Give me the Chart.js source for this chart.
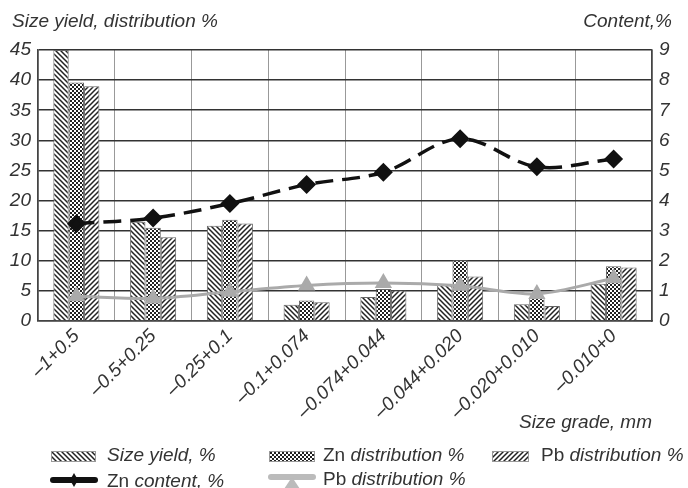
<!DOCTYPE html>
<html><head><meta charset="utf-8">
<script src="https://cdn.jsdelivr.net/npm/chart.js@4"></script>
<style>html,body{margin:0;padding:0;background:#fff}#wrap{width:688px;height:488px;position:relative}</style>
</head><body><div id="wrap"><canvas id="c" width="688" height="488"></canvas></div>
<script>
const categories = ['–1+0.5','–0.5+0.25','–0.25+0.1','–0.1+0.074','–0.074+0.044','–0.044+0.020','–0.020+0.010','–0.010+0'];
const sizeYield = [45, 16.5, 15.8, 2.7, 4.0, 6.1, 2.8, 6.2];
const znDist = [39.6, 15.5, 16.8, 3.4, 5.3, 10.1, 3.9, 9.1];
const pbDist = [39.0, 13.9, 16.2, 3.1, 5.05, 7.4, 2.5, 8.9];
const znContent = [3.23, 3.42, 3.9, 4.53, 4.94, 6.05, 5.12, 5.38];
const pbContent = [0.82, 0.75, 0.97, 1.18, 1.26, 1.17, 0.9, 1.42];
const leftTicks = [0,5,10,15,20,25,30,35,40,45];
const rightTicks = [0,1,2,3,4,5,6,7,8,9];

const FONT = "'Liberation Sans', Arial, sans-serif";
const TXT = '#333';
const canvas = document.getElementById('c');
const ctx = canvas.getContext('2d');

function stripe(dir){
  const s=5, c=document.createElement('canvas'); c.width=c.height=s;
  const g=c.getContext('2d'); g.fillStyle='#fff'; g.fillRect(0,0,s,s);
  g.strokeStyle='#222'; g.lineWidth=1.5; g.beginPath();
  if(dir>0){ g.moveTo(-1,s+1);g.lineTo(s+1,-1); g.moveTo(-2,2);g.lineTo(2,-2); g.moveTo(s-2,s+2);g.lineTo(s+2,s-2); }
  else { g.moveTo(-1,-1);g.lineTo(s+1,s+1); g.moveTo(s-2,-2);g.lineTo(s+2,2); g.moveTo(-2,s-2);g.lineTo(2,s+2); }
  g.stroke(); return ctx.createPattern(c,'repeat');
}
function dots(){
  const c=document.createElement('canvas'); c.width=c.height=4;
  const g=c.getContext('2d'); g.fillStyle='#222'; g.fillRect(0,0,4,4);
  g.fillStyle='#fff'; g.fillRect(0,0,2,2); g.fillRect(2,2,2,2);
  return ctx.createPattern(c,'repeat');
}
const pBack = stripe(-1), pFwd = stripe(1), pDots = dots();

const textPlugin = {
  id:'texts',
  afterDraw(chart){
    const g=chart.ctx; g.save();
    g.fillStyle=TXT; g.textBaseline='middle';
    g.font="italic 19px "+FONT;
    g.textAlign='left'; g.fillText('Size yield, distribution %',12,22);
    g.textAlign='right'; g.fillText('Content,%',672,22);
    g.fillText('Size grade, mm',652,423);
    // legend
    function seg(x,y,parts){ g.textAlign='left'; parts.forEach(p=>{ g.font=(p[1]?'italic ':'')+'19px '+FONT; g.fillText(p[0],x,y); x+=g.measureText(p[0]).width; }); }
    function barSw(x,y,w,pat){ g.fillStyle=pat; g.fillRect(x,y-5,w,10); g.strokeStyle='#999'; g.lineWidth=1; g.strokeRect(x+0.5,y-4.5,w,10); g.fillStyle=TXT; }
    const r1=456, r2=480;
    barSw(51,r1,44,pBack); seg(107,r1,[['Size yield, %',true]]);
    barSw(269,r1,45,pDots); seg(323,r1,[['Zn',false],[' distribution %',true]]);
    barSw(492,r1,36,pFwd); seg(541,r1,[['Pb',false],[' distribution %',true]]);
    // line swatches
    g.lineCap='round';
    g.strokeStyle='#111'; g.lineWidth=6; g.beginPath(); g.moveTo(53,r2); g.lineTo(95,r2); g.stroke();
    g.fillStyle='#111'; g.beginPath(); g.moveTo(74,r2-7); g.lineTo(78,r2); g.lineTo(74,r2+7); g.lineTo(70,r2); g.closePath(); g.fill();
    g.fillStyle=TXT; seg(107,r2+2,[['Zn',false],[' content, %',true]]);
    g.strokeStyle='#bbb'; g.lineWidth=6; g.beginPath(); g.moveTo(271,r2-3); g.lineTo(313,r2-3); g.stroke();
    g.fillStyle='#bbb'; g.beginPath(); g.moveTo(292,r2-3); g.lineTo(300,r2+9); g.lineTo(284,r2+9); g.closePath(); g.fill();
    g.fillStyle=TXT; seg(323,r2,[['Pb',false],[' distribution %',true]]);
    g.restore();
  }
};

const barCommon = {type:'bar', yAxisID:'y', borderColor:'#666', borderWidth:1, categoryPercentage:0.6, barPercentage:1, order:2};
new Chart(canvas,{
  data:{labels:categories, datasets:[
    Object.assign({label:'Size yield, %', data:sizeYield, backgroundColor:pBack}, barCommon),
    Object.assign({label:'Zn distribution %', data:znDist, backgroundColor:pDots}, barCommon),
    Object.assign({label:'Pb distribution %', data:pbDist, backgroundColor:pFwd}, barCommon),
    {type:'line', label:'Zn content, %', data:znContent, yAxisID:'y1', borderColor:'#111', borderWidth:3.5, borderDash:[18,9], tension:0.35, pointStyle:'rectRot', pointRadius:7, pointBackgroundColor:'#111', pointBorderColor:'#111', order:0},
    {type:'line', label:'Pb distribution %', data:pbContent, yAxisID:'y1', borderColor:'#aaa', borderWidth:3, tension:0.3, pointStyle:'triangle', pointRadius:7, pointBackgroundColor:'#aaa', pointBorderColor:'#aaa', order:1}
  ]},
  options:{
    responsive:false, animation:false, devicePixelRatio:1,
    layout:{padding:{top:50,left:0,right:0,bottom:0}},
    plugins:{legend:{display:false}, tooltip:{enabled:false}},
    scales:{
      x:{offset:true, grid:{display:true, color:'#999', lineWidth:1, drawTicks:false, offset:true}, border:{color:'#444', width:1.5},
         ticks:{color:TXT, font:{family:FONT, size:19, style:'italic'}, maxRotation:45, minRotation:45, padding:4, autoSkip:false},
         afterFit(s){ s.height=167; }},
      y:{position:'left', min:0, max:45, afterBuildTicks(s){ s.ticks=leftTicks.map(v=>({value:v})); },
         grid:{color:'#333', lineWidth:1.5, drawTicks:false}, border:{color:'#444', width:1.5},
         ticks:{color:TXT, font:{family:FONT, size:19, style:'italic'}, padding:7},
         afterFit(s){ s.width=38; }},
      y1:{position:'right', min:0, max:9, afterBuildTicks(s){ s.ticks=rightTicks.map(v=>({value:v})); },
         grid:{display:false, drawTicks:false}, border:{color:'#444', width:1.5},
         ticks:{color:TXT, font:{family:FONT, size:19, style:'italic'}, padding:7},
         afterFit(s){ s.width=36; }}
    }
  },
  plugins:[textPlugin]
});
</script></body></html>
